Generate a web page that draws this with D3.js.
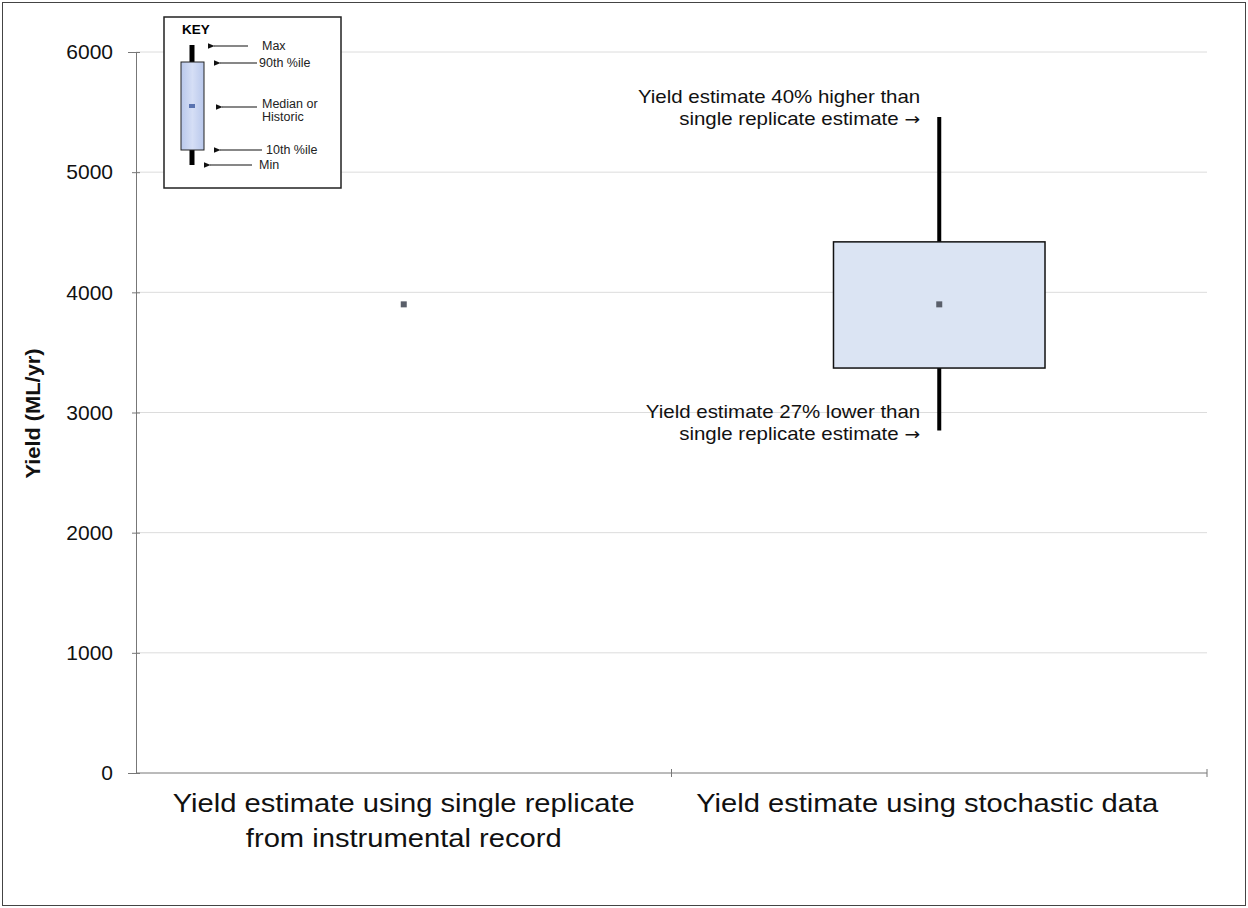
<!DOCTYPE html>
<html lang="en">
<head>
<meta charset="utf-8">
<title>Yield estimates</title>
<script src="https://d3js.org/d3.v7.min.js"></script>
<style>
  body { margin: 0; background: #fff; }
  svg { font-family: Arial, "Liberation Sans", sans-serif; }
</style>
</head>
<body>
<script>
// categories and values
var categories = ["Yield estimate using single replicate|from instrumental record", "Yield estimate using stochastic data"];
var medians = [3900, 3900];
var p10 = [null, 3370];
var p90 = [null, 4420];
var mins = [null, 2850];
var maxs = [null, 5460];
var yTicks = [0, 1000, 2000, 3000, 4000, 5000, 6000];

var width = 1248, height = 908;
var margin = {top: 52, right: 41, bottom: 135, left: 136};
var stretch = 1.1; // the original text is a little wide

var svg = d3.select("body").append("svg")
  .attr("width", width)
  .attr("height", height);
var defs = svg.append("defs");

// outer frame
svg.append("rect")
  .attr("x", 2.5).attr("y", 2.5)
  .attr("width", width - 5).attr("height", height - 5)
  .attr("fill", "none").attr("stroke", "#444").attr("stroke-width", 1);

var x = d3.scaleBand()
  .domain(d3.range(categories.length))
  .range([margin.left, width - margin.right]);

var y = d3.scaleLinear()
  .domain([0, 6000])
  .range([height - margin.bottom, margin.top]);

// gridlines
svg.append("g").selectAll("line")
  .data(yTicks.slice(1))
  .enter().append("line")
  .attr("x1", margin.left).attr("x2", width - margin.right)
  .attr("y1", function(d) { return y(d); })
  .attr("y2", function(d) { return y(d); })
  .attr("stroke", "#dcdcdc").attr("stroke-width", 1);

// y axis
var yAxis = svg.append("g")
  .attr("transform", "translate(" + margin.left + ",0)")
  .call(d3.axisLeft(y).tickValues(yTicks).tickFormat(d3.format("d")).tickSize(8).tickPadding(15));
yAxis.select(".domain").attr("stroke", "#777");
yAxis.selectAll(".tick line").attr("stroke", "#777").attr("transform", "translate(4,0)");
yAxis.selectAll("text").attr("font-size", 21).attr("fill", "#111")
  .attr("font-family", "Arial, 'Liberation Sans', sans-serif");

// x axis line with ticks at band edges
var xBase = y(0);
svg.append("line")
  .attr("x1", margin.left).attr("x2", width - margin.right)
  .attr("y1", xBase).attr("y2", xBase)
  .attr("stroke", "#777");
var edges = x.domain().map(function(i) { return x(i) + x.bandwidth(); });
svg.append("g").selectAll("line")
  .data(edges)
  .enter().append("line")
  .attr("x1", function(d) { return d; }).attr("x2", function(d) { return d; })
  .attr("y1", xBase - 4).attr("y2", xBase + 4)
  .attr("stroke", "#777");

// x labels
var labelShift = [0, -12];
categories.forEach(function(c, i) {
  var g = svg.append("g")
    .attr("transform", "translate(" + (x(i) + x.bandwidth() / 2 + labelShift[i]) + "," + (xBase + 39) + ") scale(" + stretch + ",1)");
  c.split("|").forEach(function(line, k) {
    g.append("text")
      .attr("y", k * 35)
      .attr("text-anchor", "middle")
      .attr("font-size", 26.5)
      .attr("fill", "#111")
      .text(line);
  });
});

// y axis title
svg.append("text")
  .attr("transform", "translate(40," + (y(3000) + 1) + ") rotate(-90)")
  .attr("text-anchor", "middle")
  .attr("font-size", 21)
  .attr("font-weight", "bold")
  .attr("fill", "#111")
  .attr("textLength", 130)
  .attr("lengthAdjust", "spacingAndGlyphs")
  .text("Yield (ML/yr)");

// box plots
var boxW = x.bandwidth() * 0.395;
var plots = svg.append("g");
d3.range(categories.length).forEach(function(i) {
  var cx = x(i) + x.bandwidth() / 2;
  if (maxs[i] != null) {
    plots.append("line")
      .attr("x1", cx).attr("x2", cx)
      .attr("y1", y(maxs[i])).attr("y2", y(mins[i]))
      .attr("stroke", "#000").attr("stroke-width", 4);
  }
  if (p90[i] != null) {
    plots.append("rect")
      .attr("x", cx - boxW / 2)
      .attr("y", y(p90[i]))
      .attr("width", boxW)
      .attr("height", y(p10[i]) - y(p90[i]))
      .attr("fill", "#dbe4f3")
      .attr("stroke", "#111").attr("stroke-width", 1.5);
  }
  plots.append("rect")
    .attr("x", cx - 3).attr("y", y(medians[i]) - 3)
    .attr("width", 6).attr("height", 6)
    .attr("fill", "#5a5f6a");
});

// annotations
var cx2 = x(1) + x.bandwidth() / 2;
var notes = [
  {v: maxs[1], lines: ["Yield estimate 40% higher than", "single replicate estimate"], dy: -14},
  {v: mins[1], lines: ["Yield estimate 27% lower than", "single replicate estimate"], dy: -13}
];
notes.forEach(function(n) {
  var g = svg.append("g")
    .attr("transform", "translate(" + (cx2 - 19) + "," + (y(n.v) + n.dy) + ") scale(" + stretch + ",1)");
  n.lines.forEach(function(line, k) {
    var t = g.append("text")
      .attr("y", k * 22.5)
      .attr("text-anchor", "end")
      .attr("font-size", 18.6)
      .attr("fill", "#111")
      .text(line);
    if (k === 1) {
      t.append("tspan")
        .attr("font-family", "'DejaVu Sans', sans-serif")
        .attr("font-size", 17)
        .text(" \u2192");
    }
  });
});

// key
var key = svg.append("g").attr("transform", "translate(164,17)");
key.append("rect")
  .attr("width", 177).attr("height", 171)
  .attr("fill", "#fff").attr("stroke", "#222").attr("stroke-width", 1.5);
key.append("text")
  .attr("x", 18).attr("y", 17)
  .attr("font-size", 13.5).attr("font-weight", "bold")
  .text("KEY");
var kGrad = defs.append("linearGradient")
  .attr("id", "keyfill").attr("x1", "0").attr("x2", "1");
kGrad.append("stop").attr("offset", "0").attr("stop-color", "#b9c8ec");
kGrad.append("stop").attr("offset", "0.5").attr("stop-color", "#d5def5");
kGrad.append("stop").attr("offset", "1").attr("stop-color", "#b9c8ec");
key.append("line")
  .attr("x1", 28).attr("x2", 28).attr("y1", 28).attr("y2", 148)
  .attr("stroke", "#000").attr("stroke-width", 5);
key.append("rect")
  .attr("x", 17).attr("y", 45).attr("width", 23).attr("height", 88)
  .attr("fill", "url(#keyfill)").attr("stroke", "#222").attr("stroke-width", 1);
key.append("rect")
  .attr("x", 25).attr("y", 87).attr("width", 6).attr("height", 4)
  .attr("fill", "#5a73b0");

var keyItems = [
  {y: 29, x1: 50, x2: 84, tx: 98, lines: ["Max"]},
  {y: 46, x1: 56, x2: 93, tx: 95, lines: ["90th %ile"]},
  {y: 90, x1: 58, x2: 93, tx: 98, lines: ["Median or", "Historic"]},
  {y: 133, x1: 56, x2: 98, tx: 102, lines: ["10th %ile"]},
  {y: 148, x1: 46, x2: 88, tx: 95, lines: ["Min"]}
];
var arrowDefs = defs.append("marker")
  .attr("id", "ah").attr("viewBox", "0 0 10 10")
  .attr("refX", 1).attr("refY", 5)
  .attr("markerWidth", 6).attr("markerHeight", 6)
  .attr("orient", "auto-start-reverse");
arrowDefs.append("path").attr("d", "M0,5 L10,1 L10,9 Z").attr("fill", "#111");
keyItems.forEach(function(k) {
  key.append("line")
    .attr("x1", k.x1).attr("x2", k.x2).attr("y1", k.y).attr("y2", k.y)
    .attr("stroke", "#111").attr("stroke-width", 1.2)
    .attr("marker-start", "url(#ah)");
  var t = key.append("text").attr("font-size", 12.5).attr("fill", "#222");
  k.lines.forEach(function(line, j) {
    t.append("tspan")
      .attr("x", k.tx)
      .attr("y", k.y + 4 + (k.lines.length > 1 ? -3 : 0) + j * 13)
      .text(line);
  });
});
</script>
</body>
</html>
